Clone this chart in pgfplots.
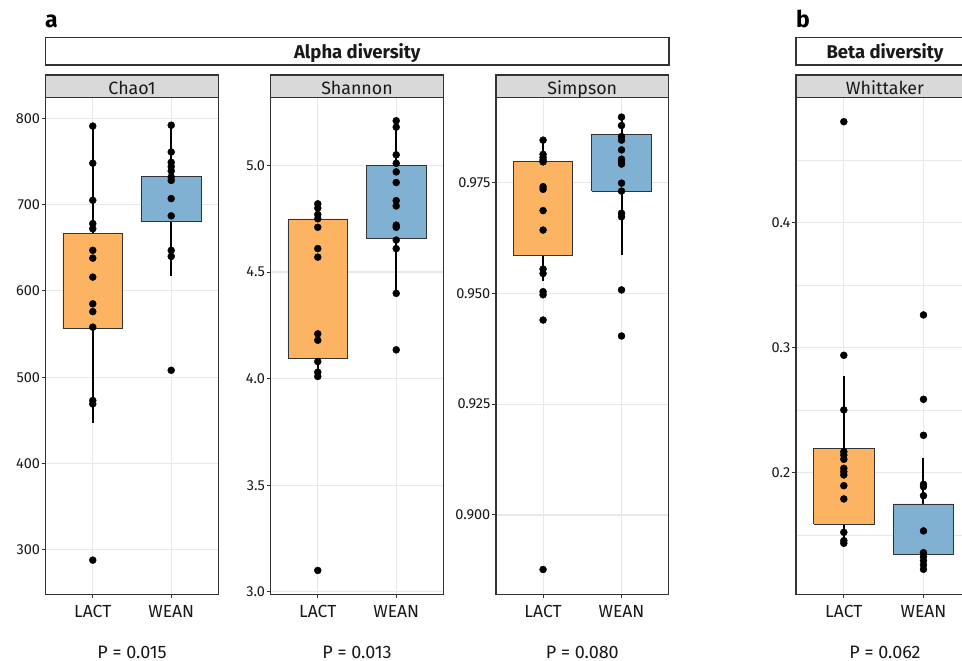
\documentclass[border=0pt]{standalone}
\usepackage{fontspec}
\setmainfont{Fira Sans}
\usepackage{pgfplots}
\pgfplotsset{compat=1.18}
\definecolor{lact}{HTML}{FDB462}
\definecolor{wean}{HTML}{80B1D3}
\definecolor{frame}{HTML}{333333}
\definecolor{stripfill}{HTML}{D9D9D9}
\definecolor{gridc}{HTML}{E8E8E8}

\pgfplotsset{
  panel/.style={
    scale only axis, width=172.6pt, height=496.6pt, anchor=north west,
    xmin=0.4, xmax=2.6, xtick={1,2}, xticklabels={LACT,WEAN},
    grid=major, major grid style={gridc, line width=1.1pt},
    axis line style={frame, line width=1.4pt},
    tick style={frame, line width=1pt},
    tick align=outside, major tick length=4pt, tick pos=left,
    /pgf/number format/assume math mode=true,
    yticklabel style={font=\fontsize{14.5}{16}\selectfont, text=black!90, inner sep=1.5pt},
    xticklabel style={font=\fontsize{17.5}{20}\selectfont, text=black!90, anchor=base, yshift=-19pt},
  },
  whisk/.style={black, line width=2pt},
  boxl/.style={fill=lact, draw=frame, line width=0.8pt},
  boxw/.style={fill=wean, draw=frame, line width=0.8pt},
  pts/.style={only marks, mark=*, mark size=3.5pt, black},
}
\tikzset{
  strip/.style={draw=frame, line width=1.4pt, fill=stripfill},
  head/.style={draw=frame, line width=1.4pt},
  striptxt/.style={anchor=base, inner sep=0pt, font=\fontsize{17.8}{20}\selectfont, text=black!90},
  headtxt/.style={anchor=base, inner sep=0pt, font=\bfseries\fontsize{18.5}{20}\selectfont, text=black!90},
  ptxt/.style={anchor=base, inner sep=0pt, font=\fontsize{18}{20}\selectfont, text=black!90},
  lbl/.style={anchor=base west, inner sep=0pt, font=\bfseries\fontsize{23}{26}\selectfont},
}

\begin{document}
\begin{tikzpicture}
% panel labels and header boxes
\node[lbl] at (45pt,-28pt) {a};
\node[lbl] at (796pt,-28pt) {b};
\draw[head] (45.7pt,-37.7pt) rectangle (669pt,-65pt);
\node[headtxt] at (357.3pt,-58.3pt) {Alpha diversity};
\draw[head] (796pt,-37.7pt) rectangle (971.3pt,-65pt);
\node[headtxt] at (885pt,-58.3pt) {Beta diversity};

% Chao1
\begin{axis}[panel, at={(45.7pt,-97.7pt)}, ymin=248.4, ymax=823.9,
  ytick={300,400,500,600,700,800}]
  \addplot[whisk] coordinates {(1,447) (1,791)};
  \addplot[whisk] coordinates {(2,617) (2,793)};
  \addplot[boxl] coordinates {(0.62,556) (1.38,556) (1.38,667) (0.62,667) (0.62,556)};
  \addplot[boxw] coordinates {(1.62,681) (2.38,681) (2.38,733) (1.62,733) (1.62,681)};
  \addplot[pts] coordinates {(1,791) (1,748) (1,705) (1,678) (1,672) (1,647) (1,638)
    (1,616) (1,585) (1,576) (1,558) (1,473) (1,469) (1,288)};
  \addplot[pts] coordinates {(2,792) (2,761) (2,749) (2,744) (2,739) (2,732) (2,728)
    (2,707) (2,687) (2,647) (2,640) (2,508)};
\end{axis}
\draw[strip] (45.7pt,-75pt) rectangle (218.3pt,-97.7pt);
\node[striptxt] at (132pt,-94.3pt) {Chao1};
\node[ptxt] at (132pt,-658pt) {P = 0.015};

% Shannon
\begin{axis}[panel, at={(270.7pt,-97.7pt)}, ymin=2.988, ymax=5.318,
  ytick={3,3.5,4,4.5,5},
  yticklabel style={/pgf/number format/.cd, fixed, fixed zerofill, precision=1}]
  \addplot[whisk] coordinates {(1,4.01) (1,4.82)};
  \addplot[whisk] coordinates {(2,4.39) (2,5.21)};
  \addplot[boxl] coordinates {(0.62,4.097) (1.38,4.097) (1.38,4.749) (0.62,4.749) (0.62,4.097)};
  \addplot[boxw] coordinates {(1.62,4.659) (2.38,4.659) (2.38,5.002) (1.62,5.002) (1.62,4.659)};
  \addplot[pts] coordinates {(1,4.82) (1,4.80) (1,4.77) (1,4.75) (1,4.71) (1,4.61) (1,4.57)
    (1,4.21) (1,4.18) (1,4.08) (1,4.03) (1,4.01) (1,3.10)};
  \addplot[pts] coordinates {(2,5.21) (2,5.18) (2,5.05) (2,5.01) (2,4.97) (2,4.92) (2,4.835)
    (2,4.81) (2,4.72) (2,4.71) (2,4.65) (2,4.61) (2,4.40) (2,4.135)};
\end{axis}
\draw[strip] (270.7pt,-75pt) rectangle (443.3pt,-97.7pt);
\node[striptxt] at (357pt,-94.3pt) {Shannon};
\node[ptxt] at (357pt,-658pt) {P = 0.013};

% Simpson
\begin{axis}[panel, at={(496pt,-97.7pt)}, ymin=0.8821, ymax=0.99418,
  ytick={0.9,0.925,0.95,0.975},
  yticklabel style={/pgf/number format/.cd, fixed, fixed zerofill, precision=3}]
  \addplot[whisk] coordinates {(1,0.9527) (1,0.9846)};
  \addplot[whisk] coordinates {(2,0.9587) (2,0.9898)};
  \addplot[boxl] coordinates {(0.62,0.9585) (1.38,0.9585) (1.38,0.9797) (0.62,0.9797) (0.62,0.9585)};
  \addplot[boxw] coordinates {(1.62,0.9731) (2.38,0.9731) (2.38,0.9858) (1.62,0.9858) (1.62,0.9731)};
  \addplot[pts] coordinates {(1,0.9846) (1,0.9814) (1,0.9807) (1,0.9801) (1,0.9797) (1,0.9741)
    (1,0.9735) (1,0.9687) (1,0.9643) (1,0.9555) (1,0.9545) (1,0.9504) (1,0.9497) (1,0.9440) (1,0.8877)};
  \addplot[pts] coordinates {(2,0.9898) (2,0.9879) (2,0.9854) (2,0.9846) (2,0.9824) (2,0.9803)
    (2,0.9797) (2,0.9792) (2,0.9749) (2,0.9731) (2,0.9681) (2,0.9673) (2,0.9508) (2,0.9404)};
\end{axis}
\draw[strip] (496pt,-75pt) rectangle (668.6pt,-97.7pt);
\node[striptxt] at (582.3pt,-94.3pt) {Simpson};
\node[ptxt] at (582.3pt,-658pt) {P = 0.080};

% Whittaker
\begin{axis}[panel, at={(796pt,-97.7pt)}, width=175.3pt, ymin=0.1027, ymax=0.5,
  ytick={0.2,0.3,0.4}, minor ytick={0.15,0.25,0.35,0.45}, grid=both,
  minor grid style={gridc, line width=1.1pt}, minor tick length=0pt,
  yticklabel style={/pgf/number format/.cd, fixed, fixed zerofill, precision=1}]
  \addplot[whisk] coordinates {(1,0.145) (1,0.277)};
  \addplot[whisk] coordinates {(2,0.123) (2,0.212)};
  \addplot[boxl] coordinates {(0.62,0.159) (1.38,0.159) (1.38,0.2195) (0.62,0.2195) (0.62,0.159)};
  \addplot[boxw] coordinates {(1.62,0.1347) (2.38,0.1347) (2.38,0.175) (1.62,0.175) (1.62,0.1347)};
  \addplot[pts] coordinates {(1,0.4808) (1,0.2939) (1,0.2502) (1,0.2168) (1,0.2142) (1,0.2107)
    (1,0.2035) (1,0.2008) (1,0.1982) (1,0.1896) (1,0.1790) (1,0.1523) (1,0.1456) (1,0.1435)};
  \addplot[pts] coordinates {(2,0.3262) (2,0.2587) (2,0.2299) (2,0.1907) (2,0.1888) (2,0.1816)
    (2,0.1534) (2,0.1360) (2,0.1328) (2,0.1296) (2,0.1262) (2,0.1227)};
\end{axis}
\draw[strip] (796pt,-75pt) rectangle (971.3pt,-97.7pt);
\node[striptxt] at (885pt,-94.3pt) {Whittaker};
\node[ptxt] at (885pt,-658pt) {P = 0.062};

\pgfresetboundingbox
\path[use as bounding box] (0pt,0pt) rectangle (962pt,-661pt);
\end{tikzpicture}
\end{document}
